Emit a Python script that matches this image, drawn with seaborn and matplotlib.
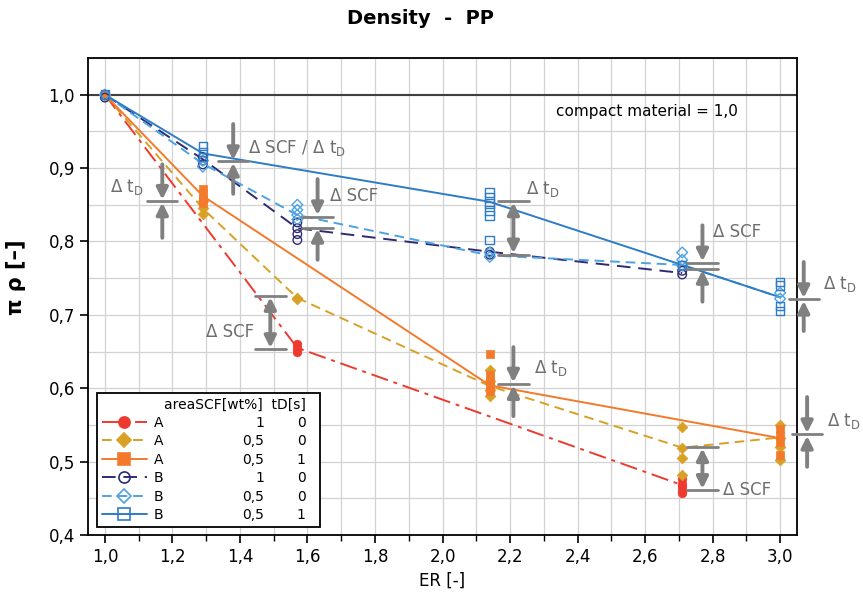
import matplotlib
matplotlib.use("Agg")
import matplotlib.pyplot as plt
from matplotlib.lines import Line2D
from matplotlib.ticker import MultipleLocator, FuncFormatter
import numpy as np
import pandas as pd
import seaborn as sns

# mean curves (line) per series
er_a1_0 = [1.0, 1.57, 2.71]
rho_a1_0 = [1.0, 0.655, 0.468]
er_a05_0 = [1.0, 1.29, 1.57, 2.14, 2.71, 3.0]
rho_a05_0 = [1.0, 0.845, 0.723, 0.603, 0.519, 0.533]
er_a05_1 = [1.0, 1.29, 2.14, 3.0]
rho_a05_1 = [1.0, 0.862, 0.604, 0.532]
er_b1_0 = [1.0, 1.29, 1.57, 2.14, 2.71]
rho_b1_0 = [1.0, 0.912, 0.818, 0.786, 0.757]
er_b05_0 = [1.0, 1.29, 1.57, 2.14, 2.71, 3.0]
rho_b05_0 = [1.0, 0.906, 0.836, 0.781, 0.768, 0.724]
er_b05_1 = [1.0, 1.29, 2.14, 2.71, 3.0]
rho_b05_1 = [1.0, 0.92, 0.854, 0.768, 0.724]

# single measurements (ER -> values)
pts_a1_0 = {1.0: [1.0], 1.57: [0.66, 0.655, 0.65], 2.71: [0.476, 0.47, 0.465, 0.46, 0.457]}
pts_a05_0 = {1.0: [1.0, 0.998], 1.29: [0.855, 0.845, 0.838], 1.57: [0.723, 0.722],
             2.14: [0.625, 0.61, 0.598, 0.59], 2.71: [0.547, 0.518, 0.505, 0.482],
             3.0: [0.55, 0.532, 0.52, 0.502]}
pts_a05_1 = {1.0: [1.0], 1.29: [0.872, 0.865, 0.858, 0.852],
             2.14: [0.646, 0.618, 0.61, 0.602, 0.596], 3.0: [0.544, 0.535, 0.527, 0.509]}
pts_b1_0 = {1.0: [1.0, 0.996], 1.29: [0.915, 0.91, 0.905], 1.57: [0.826, 0.818, 0.81, 0.802],
            2.14: [0.786, 0.782], 2.71: [0.76, 0.755]}
pts_b05_0 = {1.0: [1.0], 1.29: [0.91, 0.902], 1.57: [0.85, 0.843, 0.836, 0.83],
             2.14: [0.785, 0.779], 2.71: [0.785, 0.775, 0.767], 3.0: [0.73, 0.722]}
pts_b05_1 = {1.0: [1.0], 1.29: [0.93, 0.922, 0.915], 2.14: [0.867, 0.86, 0.852, 0.842, 0.835, 0.802],
             2.71: [0.768], 3.0: [0.745, 0.74, 0.712, 0.705]}

materials = ["A", "A", "A", "B", "B", "B"]
area_scf = ["1", "0,5", "0,5", "1", "0,5", "0,5"]
t_d = ["0", "0", "1", "0", "0", "1"]

series = [
    (er_a1_0, rho_a1_0, pts_a1_0, "#ee3a2e", (0, (9, 3, 2, 3)), "o", True),
    (er_a05_0, rho_a05_0, pts_a05_0, "#d9a026", (0, (5, 3)), "D", True),
    (er_a05_1, rho_a05_1, pts_a05_1, "#f37a2a", "-", "s", True),
    (er_b1_0, rho_b1_0, pts_b1_0, "#2f2b72", (0, (7, 4)), "o", False),
    (er_b05_0, rho_b05_0, pts_b05_0, "#4da3e2", (0, (5, 3)), "D", False),
    (er_b05_1, rho_b05_1, pts_b05_1, "#2f7cc6", "-", "s", False),
]

# annotation marks
gray = "#808080"
pinches = [
    (1.17, [0.855], 0.905, 0.805),
    (1.38, [0.909], 0.96, 0.865),
    (1.63, [0.834, 0.819], 0.885, 0.775),
    (2.77, [0.771, 0.763], 0.822, 0.718),
    (3.07, [0.721], 0.772, 0.678),
    (2.21, [0.606], 0.656, 0.562),
    (3.08, [0.537], 0.588, 0.493),
]
spans = [(1.49, 0.726, 0.653), (2.21, 0.855, 0.782), (2.77, 0.52, 0.461)]
labels_delta = [
    (1.015, 0.874, r"Δ t$_\mathregular{D}$"),
    (1.425, 0.928, r"Δ SCF / Δ t$_\mathregular{D}$"),
    (1.668, 0.862, "Δ SCF"),
    (1.30, 0.677, "Δ SCF"),
    (2.246, 0.872, r"Δ t$_\mathregular{D}$"),
    (2.80, 0.813, "Δ SCF"),
    (3.128, 0.742, r"Δ t$_\mathregular{D}$"),
    (2.27, 0.627, r"Δ t$_\mathregular{D}$"),
    (3.14, 0.555, r"Δ t$_\mathregular{D}$"),
    (2.83, 0.461, "Δ SCF"),
]

sns.set_style("ticks")
plt.rcParams["font.family"] = ["DejaVu Sans"]
plt.rcParams["text.color"] = "black"

fig = plt.figure(figsize=(8.63, 5.96), dpi=100)
ax = fig.add_axes([0.102, 0.1023, 0.8215, 0.8004])

ax.axhline(1.0, color="#404040", lw=1.5, zorder=2)

handles = []
for er, rho, pts, c, ls, m, filled in series:
    sns.lineplot(x=er, y=rho, color=c, linestyle=ls, lw=1.4, ax=ax, zorder=3)
    df = pd.DataFrame([(k, v) for k, vals in pts.items() for v in vals], columns=["ER", "rho"])
    if filled:
        sns.scatterplot(data=df, x="ER", y="rho", marker=m, s=38 if m != "D" else 30,
                        color=c, edgecolor=c, linewidth=0.5, ax=ax, zorder=4)
    else:
        sns.scatterplot(data=df, x="ER", y="rho", marker=m, s=38 if m != "D" else 30,
                        color=c, facecolor="none", edgecolor=c, linewidth=1.0, ax=ax, zorder=4)
    handles.append(Line2D([], [], color=c, ls=ls, lw=1.4, marker=m,
                          ms=8 if m != "D" else 7, mfc=c if filled else "none", mec=c, mew=1.2))

# delta annotations
bar_w = 0.045
for x, bars, top, bottom in pinches:
    for yb in bars:
        ax.plot([x - bar_w, x + bar_w], [yb, yb], color=gray, lw=2, clip_on=False, zorder=5)
    ax.annotate("", xy=(x, max(bars) + 0.002), xytext=(x, top), annotation_clip=False,
                arrowprops=dict(arrowstyle="-|>", color=gray, lw=2.8, mutation_scale=17,
                                shrinkA=0, shrinkB=0))
    ax.annotate("", xy=(x, min(bars) - 0.002), xytext=(x, bottom), annotation_clip=False,
                arrowprops=dict(arrowstyle="-|>", color=gray, lw=2.8, mutation_scale=17,
                                shrinkA=0, shrinkB=0))
for x, y1, y2 in spans:
    for yb in (y1, y2):
        ax.plot([x - bar_w, x + bar_w], [yb, yb], color=gray, lw=2, zorder=5)
    ax.annotate("", xy=(x, y1 - 0.002), xytext=(x, y2 + 0.002),
                arrowprops=dict(arrowstyle="<|-|>", color=gray, lw=2.8, mutation_scale=17,
                                shrinkA=0, shrinkB=0))
for x, y, t in labels_delta:
    ax.text(x, y, t, color="#6e6e6e", fontsize=12, ha="left", va="center", clip_on=False)

ax.text(2.335, 0.977, "compact material = 1,0", fontsize=11, color="black", ha="left", va="center")

ax.set_xlim(0.95, 3.05)
ax.set_ylim(0.4, 1.05)
ax.xaxis.set_major_locator(MultipleLocator(0.2))
ax.xaxis.set_minor_locator(MultipleLocator(0.1))
ax.yaxis.set_major_locator(MultipleLocator(0.1))
ax.yaxis.set_minor_locator(MultipleLocator(0.05))
comma = FuncFormatter(lambda v, p: f"{v:.1f}".replace(".", ","))
ax.xaxis.set_major_formatter(comma)
ax.yaxis.set_major_formatter(comma)
ax.grid(which="both", color="#d2d2d2", lw=0.9, zorder=0)
ax.set_axisbelow(True)
ax.tick_params(which="major", direction="out", length=6, width=1.2, labelsize=12,
               colors="black", labelcolor="black")
ax.tick_params(axis="x", which="minor", direction="out", length=4, width=1.0, colors="black")
ax.tick_params(axis="y", which="minor", length=0)
for sp in ax.spines.values():
    sp.set_visible(True)
    sp.set_color("black")
    sp.set_linewidth(1.3)

ax.set_xlabel("ER [-]", fontsize=12, labelpad=4, color="black")
ax.set_ylabel("π ρ [–]", fontsize=15, fontweight="bold", color="black")
ax.yaxis.set_label_coords(-0.088, 0.54)
fig.suptitle("Density  -  PP", fontsize=14, fontweight="bold", x=0.487, y=0.985, color="black")

leg = ax.legend(handles, materials, loc="lower left", bbox_to_anchor=(0.013, 0.017, 0.314, 0.33),
                mode="expand", title=" ", fontsize=10, title_fontsize=10, frameon=True,
                fancybox=False, edgecolor="black", framealpha=1, handlelength=3.2,
                handletextpad=0.5, labelspacing=0.32, borderaxespad=0, borderpad=0.35)
leg.get_frame().set_linewidth(1.3)

fig.canvas.draw()
rend = fig.canvas.get_renderer()
inv = ax.transAxes.inverted()
for txt, a, t in zip(leg.get_texts(), area_scf, t_d):
    bb = txt.get_window_extent(rend)
    yy = inv.transform((0, (bb.y0 + bb.y1) / 2))[1]
    ax.text(0.248, yy, a, transform=ax.transAxes, ha="right", va="center", fontsize=10, zorder=10)
    ax.text(0.307, yy, t, transform=ax.transAxes, ha="right", va="center", fontsize=10, zorder=10)
bb = leg.get_title().get_window_extent(rend)
yy = inv.transform((0, (bb.y0 + bb.y1) / 2))[1]
ax.text(0.307, yy, "areaSCF[wt%]  tD[s]", transform=ax.transAxes, ha="right", va="center",
        fontsize=10, zorder=10)

fig.savefig("out.png", dpi=100)
